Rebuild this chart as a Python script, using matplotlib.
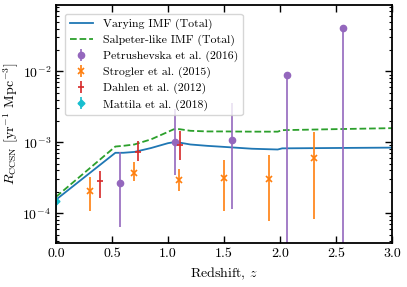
import numpy as np
import matplotlib
matplotlib.use("Agg")
import matplotlib.pyplot as plt

plt.rcParams['font.family'] = 'serif'
plt.rcParams['font.serif'] = ['cmr10', 'DejaVu Serif']
plt.rcParams['mathtext.fontset'] = 'cm'
plt.rcParams['axes.formatter.use_mathtext'] = True

# model curves
z_vary = [0.0, 0.53, 0.6, 0.7, 0.85, 1.0, 1.05, 1.1, 1.2, 1.35, 1.5, 1.75, 1.98, 2.02, 2.5, 3.0]
r_vary = [1.55e-4, 7.1e-4, 7.1e-4, 7.3e-4, 8.3e-4, 9.7e-4, 1.0e-3, 9.9e-4, 9.3e-4, 8.9e-4, 8.6e-4, 8.1e-4, 7.9e-4, 8.2e-4, 8.3e-4, 8.4e-4]

z_salp = [0.0, 0.53, 0.6, 0.7, 0.85, 1.0, 1.05, 1.1, 1.2, 1.35, 1.5, 1.75, 1.98, 2.02, 2.5, 3.0]
r_salp = [1.7e-4, 8.7e-4, 8.9e-4, 9.3e-4, 1.1e-3, 1.4e-3, 1.52e-3, 1.53e-3, 1.45e-3, 1.42e-3, 1.42e-3, 1.41e-3, 1.41e-3, 1.48e-3, 1.53e-3, 1.58e-3]

# observations
z_petr = [0.57, 1.06, 1.57, 2.06, 2.56]
r_petr = [2.66e-4, 1.0e-3, 1.06e-3, 8.9e-3, 4.05e-2]
lo_petr = [6.3e-5, 3.5e-4, 1.16e-4, 1e-6, 1e-6]
hi_petr = [7.2e-4, 2.9e-3, 3.56e-3, 8.9e-3, 4.05e-2]

z_strog = [0.3, 0.7, 1.1, 1.5, 1.9, 2.3]
r_strog = [2.03e-4, 3.68e-4, 2.97e-4, 3.13e-4, 3.06e-4, 5.98e-4]
lo_strog = [1.06e-4, 2.86e-4, 2.03e-4, 1.06e-4, 7.7e-5, 8.3e-5]
hi_strog = [3.23e-4, 5.2e-4, 4.2e-4, 5.67e-4, 6.67e-4, 1.39e-3]

z_dahl = [0.39, 0.73, 1.11]
r_dahl = [2.86e-4, 7.28e-4, 9.2e-4]
lo_dahl = [1.64e-4, 5.4e-4, 5.67e-4]
hi_dahl = [3.88e-4, 1.03e-3, 1.42e-3]

z_matt = [0.0]
r_matt = [1.47e-4]
lo_matt = [1.12e-4]
hi_matt = [1.73e-4]


def yerr(r, lo, hi):
    r = np.array(r)
    return [r - np.array(lo), np.array(hi) - r]


fig = plt.figure(figsize=(4.07, 2.87), dpi=100)
ax = fig.add_axes([0.1376, 0.1533, 0.8254, 0.8293])

ax.plot(z_vary, r_vary, color='#1f77b4', lw=1.3, label='Varying IMF (Total)')
ax.plot(z_salp, r_salp, color='#2ca02c', lw=1.3, ls='--', label='Salpeter-like IMF (Total)')

ax.errorbar(z_petr, r_petr, yerr=yerr(r_petr, lo_petr, hi_petr), fmt='o', color='#9467bd',
            ms=4.5, elinewidth=1.2, label='Petrushevska et al. (2016)')
ax.errorbar(z_strog, r_strog, yerr=yerr(r_strog, lo_strog, hi_strog), fmt='x', color='#ff7f0e',
            ms=4, mew=1.2, elinewidth=1.2, label='Strogler et al. (2015)')
ax.errorbar(z_dahl, r_dahl, yerr=yerr(r_dahl, lo_dahl, hi_dahl), fmt='_', color='#d62728',
            ms=5, mew=1.2, elinewidth=1.2, label='Dahlen et al. (2012)')
ax.errorbar(z_matt, r_matt, yerr=yerr(r_matt, lo_matt, hi_matt), fmt='D', color='#17becf',
            ms=3.5, elinewidth=1.2, label='Mattila et al. (2018)')

ax.set_yscale('log')
ax.set_xlim(0, 3.0)
ax.set_ylim(3.8e-5, 0.086)
ax.set_xticks([0, 0.5, 1.0, 1.5, 2.0, 2.5, 3.0])
ax.set_xticklabels(['0.0', '0.5', '1.0', '1.5', '2.0', '2.5', '3.0'])
ax.set_xlabel('Redshift, $z$', fontsize=10)
ax.set_ylabel(r'$R_{\rm CCSN}$ [yr$^{-1}$ Mpc$^{-3}$]', fontsize=10, labelpad=1)

ax.tick_params(which='both', direction='in', top=True, right=True, labelsize=10)
ax.tick_params(which='major', length=5, width=1)
ax.tick_params(which='minor', length=2.5, width=0.8)
ax.tick_params(axis='x', which='minor', bottom=False, top=False)
for s in ax.spines.values():
    s.set_linewidth(1.3)

ax.legend(loc='upper left', fontsize=8.5, frameon=True, borderaxespad=0.75,
          handlelength=2.0, labelspacing=0.4)

fig.savefig('out.png', dpi=100)
